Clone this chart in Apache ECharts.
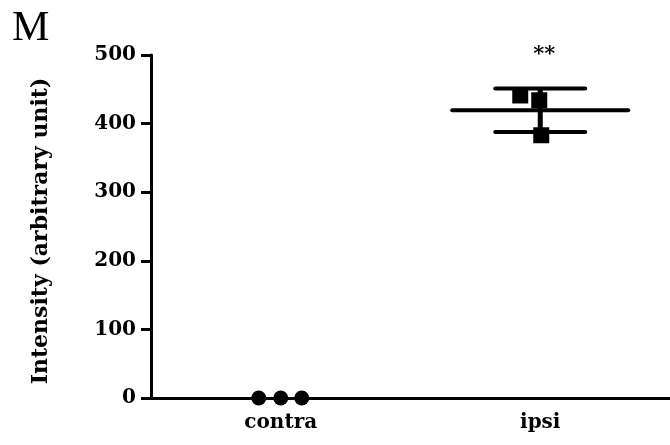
<!DOCTYPE html>
<html>
<head>
<meta charset="utf-8">
<script src="https://cdn.jsdelivr.net/npm/echarts@6/dist/echarts.min.js"></script>
<style>
  html, body { margin: 0; padding: 0; background: #fff; }
  #chart { width: 670px; height: 445px; }
</style>
</head>
<body>
<div id="chart"></div>
<script>
// Groups on the x axis
const categories = ['contra', 'ipsi'];
// Individual measurements per group (arbitrary intensity units)
const contraValues = [0, 0, 0];
const ipsiValues = [441, 434, 383];
// Y axis range and step
const yMin = 0;
const yMax = 500;
const yStep = 100;
// Significance marks above each group
const significance = ['', '**'];

// Horizontal spread of the replicate symbols (pixels)
const contraJitter = [-22, 0, 21];
const ipsiJitter = [-20, -1, 1];

const FONT = 'DejaVu Serif';

function mean(a) { return a.reduce((s, v) => s + v, 0) / a.length; }
function sd(a) {
  const m = mean(a);
  return Math.sqrt(a.reduce((s, v) => s + (v - m) * (v - m), 0) / (a.length - 1));
}

const groups = [contraValues, ipsiValues];
const summary = groups.map((g, i) => [i, mean(g), sd(g), significance[i]]);

const chart = echarts.init(document.getElementById('chart'), null, { renderer: 'canvas' });

chart.setOption({
  animation: false,
  backgroundColor: '#fff',
  grid: { left: 151, top: 55, width: 522, height: 343, containLabel: false },
  xAxis: {
    type: 'category',
    data: categories,
    boundaryGap: true,
    axisLine: { lineStyle: { color: '#000', width: 3 } },
    axisTick: { alignWithLabel: true, length: 7, lineStyle: { color: '#000', width: 3 } },
    axisLabel: { color: '#000', fontFamily: FONT, fontWeight: 'bold', fontSize: 20, margin: 15 },
    splitLine: { show: false }
  },
  yAxis: {
    type: 'value',
    min: yMin,
    max: yMax,
    interval: yStep,
    axisLine: { show: true, lineStyle: { color: '#000', width: 3 } },
    axisTick: { show: true, length: 10, lineStyle: { color: '#000', width: 3 } },
    axisLabel: { color: '#000', fontFamily: FONT, fontWeight: 'bold', fontSize: 20, margin: 15 },
    splitLine: { show: false }
  },
  graphic: [
    {
      type: 'text',
      left: 12,
      top: 8,
      style: { text: 'M', font: '42px "Liberation Serif"', fill: '#000' }
    },
    {
      type: 'text',
      x: 41,
      y: 231,
      rotation: Math.PI / 2,
      style: {
        text: 'Intensity (arbitrary unit)',
        font: 'bold 22px "DejaVu Serif"',
        fill: '#000',
        textAlign: 'center',
        textVerticalAlign: 'middle'
      }
    }
  ],
  series: [
    {
      name: 'contra',
      type: 'scatter',
      symbol: 'circle',
      symbolSize: 15,
      itemStyle: { color: '#000', opacity: 1 },
      z: 3,
      data: contraValues.map((v, k) => ({ value: [0, v], symbolOffset: [contraJitter[k], 0] }))
    },
    {
      name: 'ipsi',
      type: 'scatter',
      symbol: 'rect',
      symbolSize: 16,
      itemStyle: { color: '#000', opacity: 1 },
      z: 3,
      data: ipsiValues.map((v, k) => ({ value: [1, v], symbolOffset: [ipsiJitter[k], 0] }))
    },
    {
      name: 'mean ± SD',
      type: 'custom',
      z: 4,
      data: summary,
      renderItem(params, api) {
        const i = api.value(0);
        const m = api.value(1);
        const s = api.value(2);
        const c = api.coord([i, m]);
        const up = api.coord([i, m + s]);
        const lo = api.coord([i, m - s]);
        const top = api.coord([i, yMax]);
        const st = { stroke: '#000', lineWidth: 4, lineCap: 'round' };
        const children = [];
        if (s > 0) {
          children.push(
            { type: 'line', shape: { x1: c[0] - 88, y1: c[1], x2: c[0] + 88, y2: c[1] }, style: st },
            { type: 'line', shape: { x1: c[0], y1: up[1], x2: c[0], y2: lo[1] }, style: { stroke: '#000', lineWidth: 5 } },
            { type: 'line', shape: { x1: c[0] - 45, y1: up[1], x2: c[0] + 45, y2: up[1] }, style: st },
            { type: 'line', shape: { x1: c[0] - 45, y1: lo[1], x2: c[0] + 45, y2: lo[1] }, style: st }
          );
        }
        const mark = summary[params.dataIndex][3];
        if (mark) {
          children.push({
            type: 'text',
            x: c[0] + 4,
            y: top[1],
            style: {
              text: mark,
              font: 'bold 21px "DejaVu Serif"',
              fill: '#000',
              textAlign: 'center',
              textVerticalAlign: 'middle'
            }
          });
        }
        return { type: 'group', children };
      }
    }
  ]
});
</script>
</body>
</html>
